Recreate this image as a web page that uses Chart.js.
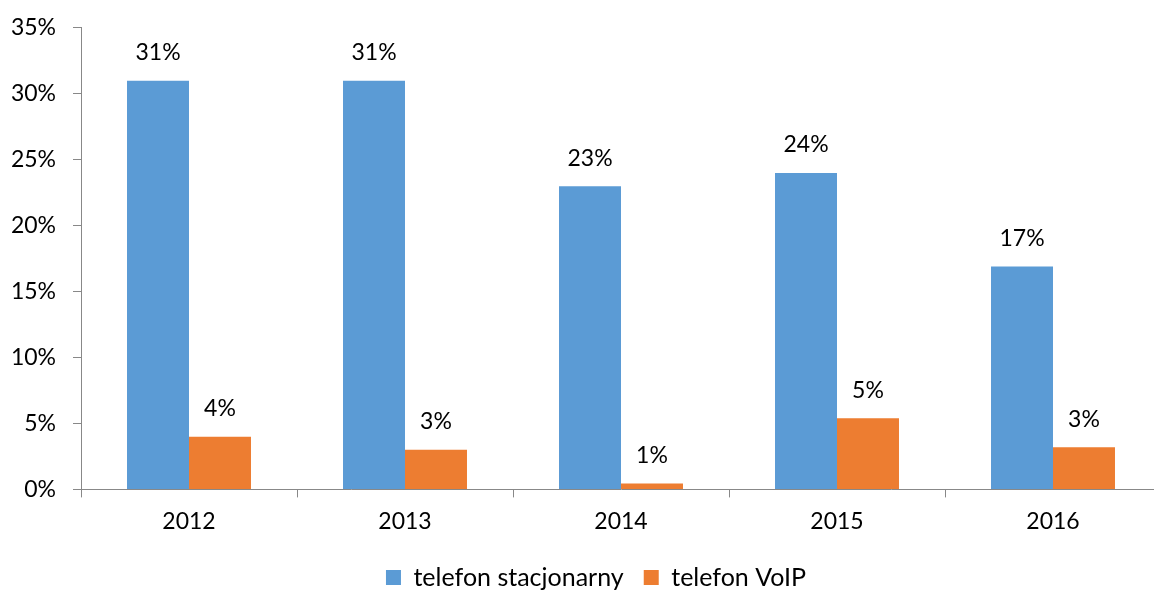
<!DOCTYPE html>
<html>
<head>
<meta charset="utf-8">
<script src="https://cdn.jsdelivr.net/npm/chart.js@4"></script>
<style>
  html, body { margin: 0; padding: 0; overflow: hidden; background: #fff; }
  #wrap { width: 1161px; height: 600px; }
</style>
</head>
<body>
<div id="wrap"><canvas id="chart" width="1161" height="600"></canvas></div>
<script>
var years = ['2012', '2013', '2014', '2015', '2016'];
var stacjonarny = [31, 31, 23, 24, 16.9];
var voip = [4, 3, 0.45, 5.4, 3.2];
var stacjonarnyLabels = ['31%', '31%', '23%', '24%', '17%'];
var voipLabels = ['4%', '3%', '1%', '5%', '3%'];
var yTicks = [0, 5, 10, 15, 20, 25, 30, 35];

var fontFamily = 'Lato, "Open Sans", sans-serif';
var fontSize = 23;

// data labels above bars
var barLabels = {
    id: 'barLabels',
    afterDatasetsDraw: function (chart) {
        var ctx = chart.ctx;
        ctx.save();
        ctx.font = fontSize + 'px ' + fontFamily;
        ctx.fillStyle = '#000';
        ctx.textAlign = 'center';
        ctx.textBaseline = 'middle';
        chart.data.datasets.forEach(function (ds, i) {
            var meta = chart.getDatasetMeta(i);
            meta.data.forEach(function (bar, j) {
                ctx.fillText(ds.valueLabels[j], bar.x, bar.y - 28);
            });
        });
        ctx.restore();
    }
};

// legend in the original sits a bit right of the canvas centre
var legendShift = {
    id: 'legendShift',
    afterLayout: function (chart) {
        chart.legend.left += 15;
        chart.legend.right += 15;
    }
};

var ctx = document.getElementById('chart').getContext('2d');
var chart = new Chart(ctx, {
    type: 'bar',
    data: {
        labels: years,
        datasets: [{
            label: 'telefon stacjonarny',
            data: stacjonarny,
            valueLabels: stacjonarnyLabels,
            backgroundColor: '#5b9bd5'
        }, {
            label: 'telefon VoIP',
            data: voip,
            valueLabels: voipLabels,
            backgroundColor: '#ed7d31'
        }]
    },
    options: {
        responsive: false,
        animation: false,
        layout: { padding: { top: 20, left: 1, right: 0, bottom: 0 } },
        datasets: {
            bar: { categoryPercentage: 0.574, barPercentage: 1.0 }
        },
        plugins: {
            tooltip: { enabled: false },
            legend: {
                position: 'bottom',
                labels: {
                    boxWidth: 15,
                    boxHeight: 15,
                    padding: 20,
                    color: '#000',
                    font: { family: fontFamily, size: 25 }
                }
            }
        },
        scales: {
            x: {
                grid: { offset: true, drawOnChartArea: false, tickLength: 8, color: '#888' },
                border: { color: '#888' },
                ticks: { color: '#000', padding: 10, font: { family: fontFamily, size: fontSize } }
            },
            y: {
                min: 0,
                max: 35,
                afterBuildTicks: function (axis) {
                    axis.ticks = yTicks.map(function (v) { return { value: v }; });
                },
                afterFit: function (axis) {
                    axis.width = 80;
                },
                grid: { drawOnChartArea: false, tickLength: 8, color: '#888' },
                border: { color: '#888' },
                ticks: {
                    color: '#000',
                    padding: 17,
                    font: { family: fontFamily, size: fontSize, lineHeight: 0.95 },
                    callback: function (v) { return v + '%'; }
                }
            }
        }
    },
    plugins: [barLabels, legendShift]
});
</script>
</body>
</html>
